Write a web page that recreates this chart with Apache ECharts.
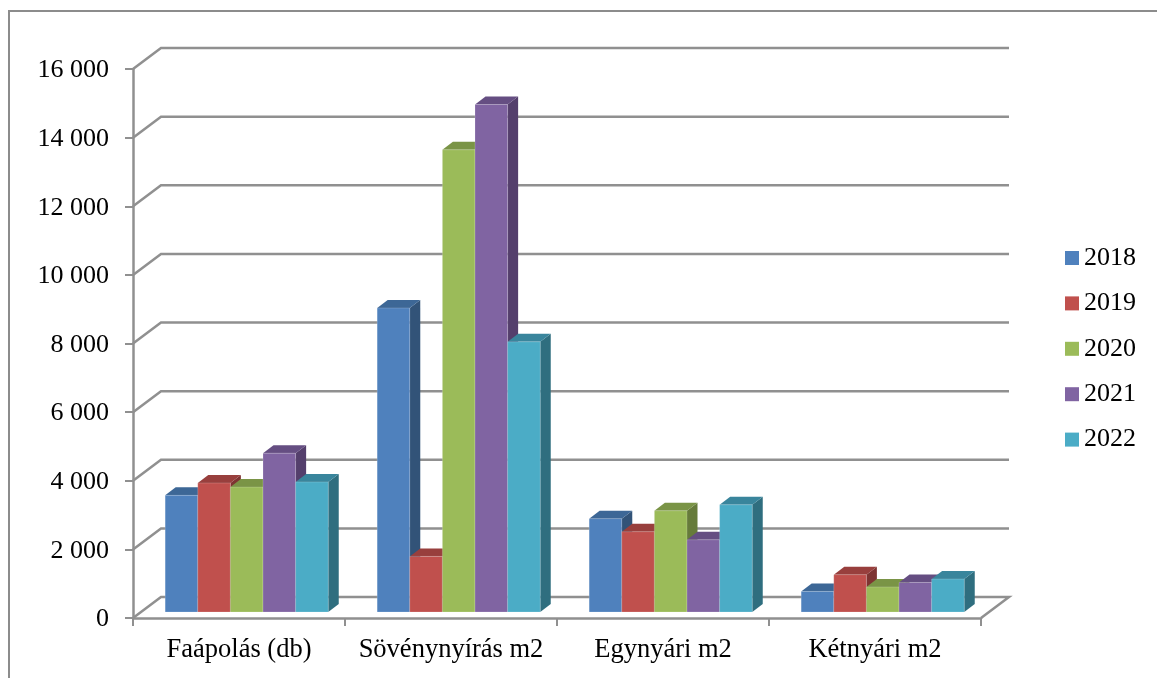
<!DOCTYPE html>
<html>
<head>
<meta charset="utf-8">
<style>html,body{margin:0;padding:0;background:#fff}#c{width:1157px;height:678px}</style>
<script src="https://cdn.jsdelivr.net/npm/echarts@6/dist/echarts.min.js"></script>
</head>
<body>
<div id="c"></div>
<script>
const categories = ['Faápolás (db)', 'Sövénynyírás m2', 'Egynyári m2', 'Kétnyári m2'];
const years = ['2018', '2019', '2020', '2021', '2022'];
const v2018 = [3400, 8860, 2720, 600];
const v2019 = [3760, 1620, 2340, 1087];
const v2020 = [3640, 13470, 2950, 730];
const v2021 = [4630, 14790, 2105, 862];
const v2022 = [3790, 7875, 3125, 961];
const yTicks = [0, 2000, 4000, 6000, 8000, 10000, 12000, 14000, 16000];

const seriesValues = [v2018, v2019, v2020, v2021, v2022];
const front = ['#4F81BD', '#C0504D', '#9BBB59', '#8064A2', '#4BACC6'];
const topC = ['#3D6796', '#983F3D', '#7A9446', '#654E82', '#39859C'];
const sideC = ['#325378', '#7E3432', '#667B3A', '#543F6C', '#2F6E7F'];
const GRID_COLOR = '#909090';
const LINE_W = 2.5;
const WALL = [28, -21], FLOOR = [7.7, -6], BAR = [10.5, -8];
const FONT = '"Liberation Serif","Times New Roman",serif';

function wallRender(params, api) {
  const v = api.value(1);
  const cs = params.coordSys;
  const y = api.coord([0, v])[1];
  const x0 = cs.x, x1 = cs.x + cs.width;
  const pts = [[x0, y], [x0 + WALL[0], y + WALL[1]], [x1 + WALL[0], y + WALL[1]]];
  if (v === 0) pts.push([x1, y]);
  return { type: 'polyline', shape: { points: pts }, style: { stroke: GRID_COLOR, lineWidth: LINE_W, fill: null } };
}

function barRender(i) {
  return function (params, api) {
    const c = api.value(0);
    const top = api.coord([c, api.value(1)]);
    const base = api.coord([c, 0]);
    const band = api.size([1, 0])[0];
    const w = band / 6.5;
    const l = top[0] - 2.5 * w + i * w + FLOOR[0];
    const r = l + w;
    const yt = top[1] + FLOOR[1], yb = base[1] + FLOOR[1];
    const dx = BAR[0], dy = BAR[1];
    const edge = 'rgba(255,255,255,0.18)';
    return { type: 'group', children: [
      { type: 'polygon', shape: { points: [[r, yt], [r + dx, yt + dy], [r + dx, yb + dy], [r, yb]] }, style: { fill: sideC[i] } },
      { type: 'polygon', shape: { points: [[l, yt], [l + dx, yt + dy], [r + dx, yt + dy], [r, yt]] }, style: { fill: topC[i] } },
      { type: 'rect', shape: { x: l, y: yt, width: w, height: yb - yt }, style: { fill: front[i], stroke: edge, lineWidth: 1 } }
    ] };
  };
}

const chart = echarts.init(document.getElementById('c'), null, { renderer: 'canvas' });
chart.setOption({
  animation: false,
  backgroundColor: '#fff',
  textStyle: { fontFamily: FONT },
  grid: { left: 133, right: 176, top: 69, bottom: 60 },
  graphic: [{
    type: 'polyline', silent: true,
    shape: { points: [[9, 678], [9, 11], [1157, 11]] },
    style: { stroke: '#8C8C8C', lineWidth: 2, fill: null }
  }],
  legend: {
    show: true, orient: 'vertical', left: 1060, top: 240,
    itemWidth: 14, itemHeight: 14, itemGap: 19.4,
    icon: 'rect',
    data: years,
    textStyle: { color: '#000', fontFamily: FONT, fontSize: 26 }
  },
  xAxis: {
    type: 'category', data: categories,
    axisLine: { lineStyle: { color: GRID_COLOR, width: LINE_W } },
    axisTick: { show: true, length: 8, lineStyle: { color: GRID_COLOR, width: 2 } },
    axisLabel: { color: '#000', fontFamily: FONT, fontSize: 26.5, margin: 19, interval: 0 }
  },
  yAxis: {
    type: 'value', min: 0, max: 16000, interval: 2000,
    splitLine: { show: false },
    axisLine: { show: true, lineStyle: { color: GRID_COLOR, width: LINE_W } },
    axisTick: { show: true, length: 8, lineStyle: { color: GRID_COLOR, width: 2 } },
    axisLabel: {
      margin: 24,
      formatter: v => '{n|' + String(v).replace(/\B(?=(\d{3})+$)/g, ' ') + '}',
      rich: { n: { color: '#000', fontFamily: FONT, fontSize: 26, padding: [3, 0, 0, 0] } }
    }
  },
  series: [
    { type: 'custom', name: 'wall', renderItem: wallRender, silent: true, z: 1, clip: false,
      data: yTicks.map(t => [0, t]), encode: { x: 0, y: 1 } }
  ].concat(years.map((y, i) => ({
    type: 'custom', name: y, renderItem: barRender(i), z: 2 + i, clip: false,
    itemStyle: { color: front[i] },
    data: seriesValues[i].map((v, c) => [c, v]), encode: { x: 0, y: 1 }
  })))
});
</script>
</body>
</html>
